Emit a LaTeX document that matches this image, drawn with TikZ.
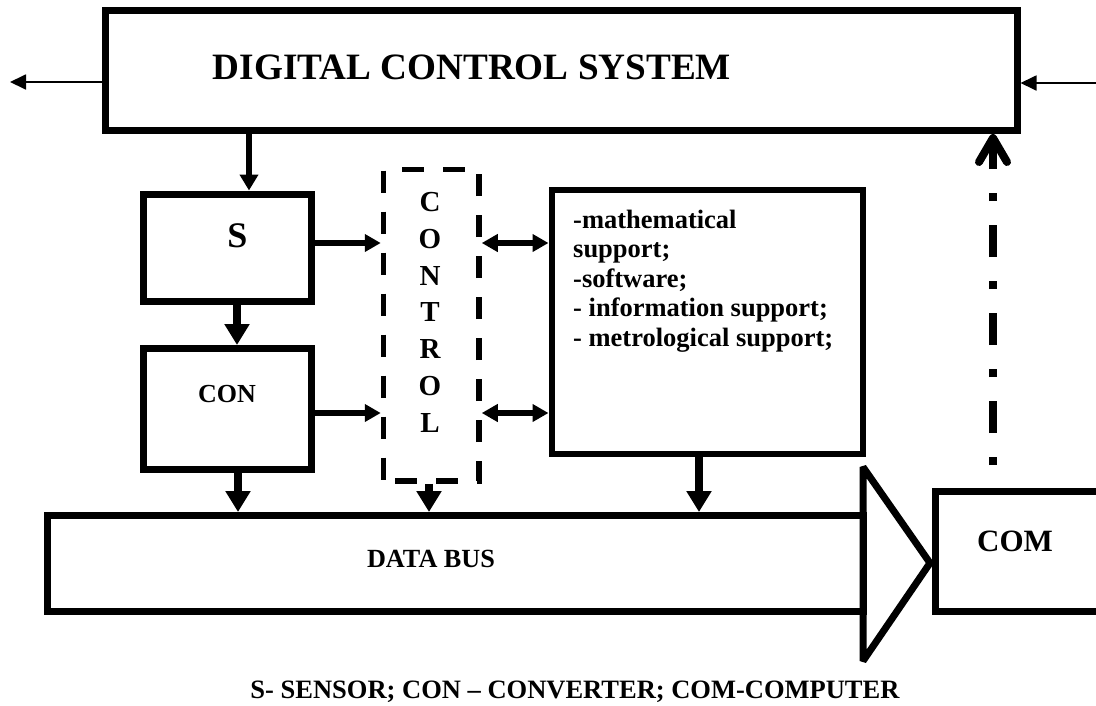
\documentclass[tikz,border=0pt]{standalone}
\usepackage{fontspec}
\setmainfont{Liberation Serif}
\usetikzlibrary{arrows.meta,calc}
\begin{document}
\begin{tikzpicture}[x=1pt,y=-1pt,
  box/.style={draw, rectangle, line width=7pt, inner sep=0pt},
  lbl/.style={inner sep=0pt},
  thinarr/.style={line width=1.8pt, -{Triangle[length=16pt,width=15pt]}},
  dsarr/.style={line width=5.7pt, -{Triangle[length=16pt,width=18pt]}},
  vbig/.style={line width=8pt, -{Triangle[length=21pt,width=24pt]}},
  hmed/.style={line width=6pt, -{Triangle[length=16pt,width=17pt]}},
  hboth/.style={line width=6pt, {Triangle[length=16pt,width=17pt]}-{Triangle[length=16pt,width=17pt]}},
  dashdotarr/.style={line width=8pt, dash pattern=on 8pt off 24pt on 32pt off 24pt, dash phase=65pt, -{Straight Barb[length=24pt,width=28pt,round]}},
]
\clip (0,0) rectangle (1096,705);
\fill[white] (0,0) rectangle (1096,705);

% boxes
\node[box, minimum width=911.5pt, minimum height=120pt] (dcs) at (561.25,70.5) {};
\node[lbl, font=\bfseries\fontsize{37.2}{40}\selectfont, anchor=base] (title) at (472,79) {DIGITAL CONTROL SYSTEM};

\node[box, minimum width=167.5pt, minimum height=107.5pt] (S) at (227.25,247.75) {};
\node[lbl, font=\bfseries\fontsize{36}{40}\selectfont, anchor=base] (stxt) at (237.5,247) {S};

\node[box, minimum width=168pt, minimum height=120.5pt] (con) at (227,408.75) {};
\node[lbl, font=\bfseries\fontsize{26}{30}\selectfont, anchor=base] (contxt) at (227,402) {CON};

\node[draw, rectangle, line width=5.5pt, dash pattern=on 22pt off 19pt, dash phase=29.5pt, inner sep=0pt, minimum width=95.5pt, minimum height=311.5pt] (ctrl) at (431.25,325.25) {};
\node[lbl, font=\bfseries\fontsize{29}{36.67}\selectfont, align=center, anchor=base] (ctrltxt) at (430,432) {C\\O\\N\\T\\R\\O\\L};

\node[draw, rectangle, line width=6pt, inner sep=0pt, minimum width=311.5pt, minimum height=263.5pt] (sup) at (707.25,321.75) {};
\node[lbl, font=\bfseries\fontsize{26.5}{29.6}\selectfont, align=left, anchor=base west] (suptxt) at (573,346.5) {-mathematical\\support;\\-software;\\- information support;\\- metrological support;};

\node[box, minimum width=816pt, minimum height=96pt] (bus) at (455,563.5) {};
\node[lbl, font=\bfseries\fontsize{26.2}{30}\selectfont, anchor=base] (bustxt) at (431,567) {DATA BUS};
\draw[line width=7pt, line join=bevel] (863,467) -- (863,661) -- (930,563) -- cycle;

\node[box, minimum width=300pt, minimum height=120pt] (com) at (1085,551.5) {};
\node[lbl, font=\bfseries\fontsize{31}{35}\selectfont, anchor=base] (comtxt) at (1015,551.5) {COM};

\node[lbl, font=\bfseries\fontsize{26.5}{30}\selectfont, anchor=base] (caption) at (575,698) {S- SENSOR; CON – CONVERTER; COM-COMPUTER};

% free ends
\coordinate (leftend) at (10,82);
\coordinate (rightend) at (1100,83);

% connectors
\draw[thinarr] (dcs.west |- leftend) -- (leftend);
\draw[thinarr] (rightend) -- (rightend -| dcs.east);

\draw[dsarr] let \p1=(S.north), \p2=(dcs.south) in (\x1+21.75pt,\y2) -- (\x1+21.75pt,\y1);
\draw[vbig] let \p1=(S.south), \p2=(con.north) in (\x1+9.75pt,\y1) -- (\x1+9.75pt,\y2);
\draw[hmed] let \p1=(S.east), \p2=(ctrl.west) in (\x1,\y1+4.75pt) -- (\x2,\y1+4.75pt);
\draw[hmed] let \p1=(con.east), \p2=(ctrl.west) in (\x1,\y1-4.25pt) -- (\x2,\y1-4.25pt);
\draw[hboth] let \p1=(ctrl.east), \p2=(sup.west) in (\x1,\y1+82.25pt) -- (\x2,\y1+82.25pt);
\draw[hboth] let \p1=(ctrl.east), \p2=(sup.west) in (\x1,\y1-87.75pt) -- (\x2,\y1-87.75pt);
\draw[vbig] let \p1=(con.south), \p2=(bus.north) in (\x1+11pt,\y1) -- (\x1+11pt,\y2);
\draw[vbig] let \p1=(ctrl.south), \p2=(bus.north) in (\x1-2.25pt,\y1) -- (\x1-2.25pt,\y2);
\draw[vbig] let \p1=(sup.south), \p2=(bus.north) in (\x1-8.25pt,\y1) -- (\x1-8.25pt,\y2);
\draw[dashdotarr] let \p1=(com.north), \p2=(dcs.south) in (\x1-92pt,\y1) -- (\x1-92pt,\y2);
\end{tikzpicture}
\end{document}
